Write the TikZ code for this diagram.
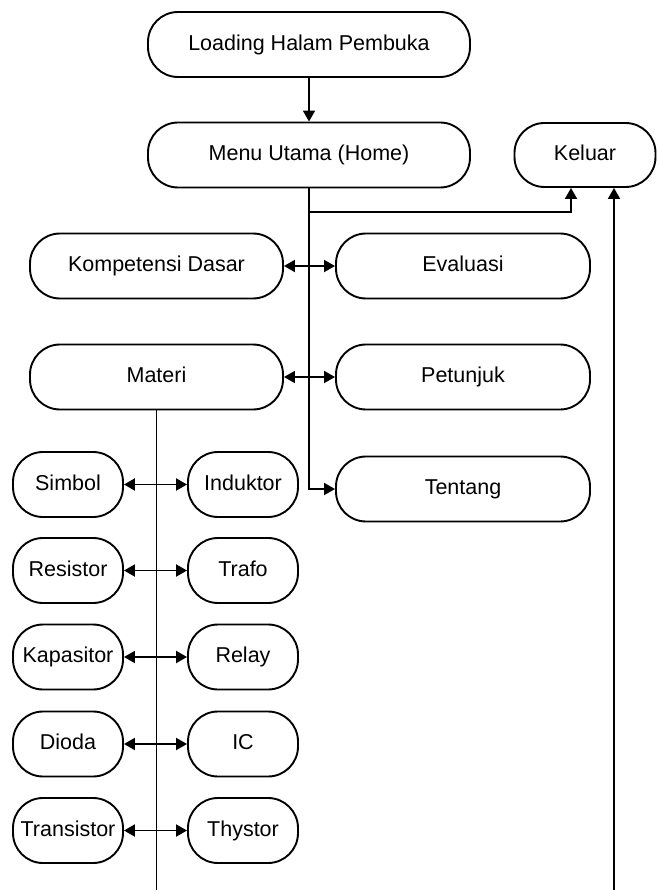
\documentclass[tikz,border=0pt]{standalone}
\usepackage{fontspec}
\setmainfont{Liberation Sans}
\usetikzlibrary{arrows.meta}
\begin{document}
\begin{tikzpicture}[x=1pt,y=-1pt,
  box/.style={draw,line width=1.9pt,rounded corners=30pt,inner sep=0pt,
    font=\fontsize{21.5}{26}\selectfont,align=center,text height=16pt,text depth=4.3pt},
  big/.style={box,minimum width=#1,minimum height=65pt},
  small/.style={box,minimum width=110pt,minimum height=65pt},
  conn/.style={line width=1.9pt},
  tip/.tip={Triangle[length=11pt,width=12pt]},
  arr/.style={conn,-tip},
  dbl/.style={conn,tip-tip}]
\useasboundingbox (0,0) rectangle (657,890);
\node[big=322pt] (load) at (309,44.5) {Loading Halam Pembuka};
\node[big=322pt] (menu) at (309,155) {Menu Utama (Home)};
\node[box,minimum width=141pt,minimum height=64pt] (kel) at (585,155) {Keluar};
\node[big=253pt] (kd) at (156.5,266) {Kompetensi Dasar};
\node[big=254pt] (ev) at (463,266) {Evaluasi};
\node[big=253pt] (mat) at (156.5,377) {Materi};
\node[big=254pt] (pet) at (463,377) {Petunjuk};
\node[big=254pt] (ten) at (463,489) {Tentang};
\node[small] (simbol) at (68,484.5) {Simbol};
\node[small] (induktor) at (243,484.5) {Induktor};
\node[small] (resistor) at (68,570.5) {Resistor};
\node[small] (trafo) at (243,570.5) {Trafo};
\node[small] (kapasitor) at (68,657) {Kapasitor};
\node[small] (relay) at (243,657) {Relay};
\node[small] (dioda) at (68,744) {Dioda};
\node[small] (ic) at (243,744) {IC};
\node[small] (transistor) at (68,830.5) {Transistor};
\node[small] (thystor) at (243,830.5) {Thystor};
\coordinate (branch) at (309,212);
\coordinate (matend) at (156.5,890);
\coordinate (rightend) at (614,890);
\draw[arr] (load) -- (menu);
\draw[arr] (menu.south) |- (ten.west);
\draw[arr] (branch) -| ([xshift=-14pt]kel.south);
\draw[arr] (rightend) -- ([xshift=29pt]kel.south);
\draw[dbl] (kd) -- (ev);
\draw[dbl] (mat) -- (pet);
\draw[conn] (mat.south) -- (matend);
\draw[dbl] (simbol) -- (induktor);
\draw[dbl] (resistor) -- (trafo);
\draw[dbl] (kapasitor) -- (relay);
\draw[dbl] (dioda) -- (ic);
\draw[dbl] (transistor) -- (thystor);
\end{tikzpicture}
\end{document}
